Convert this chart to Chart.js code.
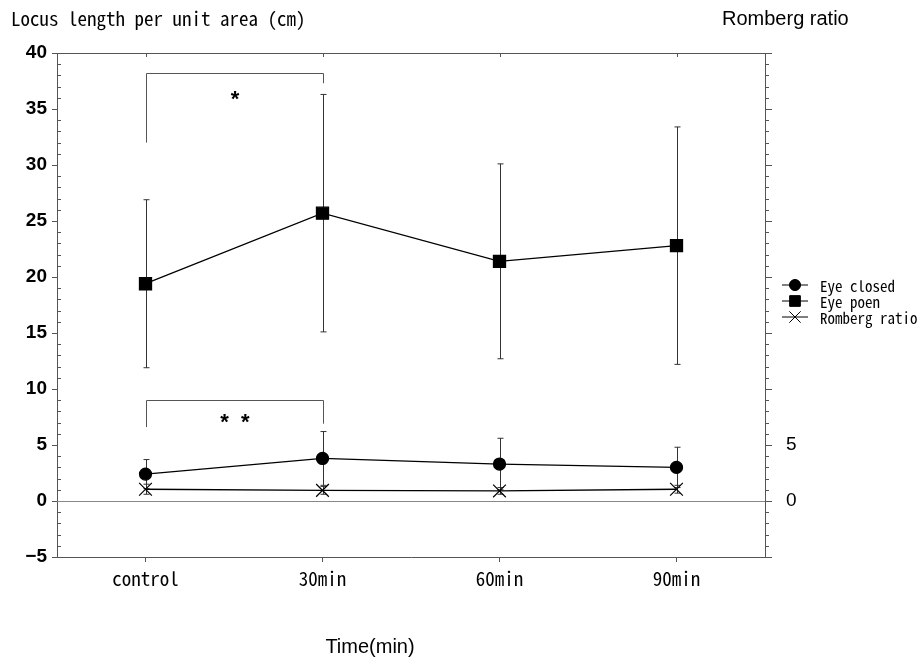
<!DOCTYPE html>
<html>
<head>
<meta charset="utf-8">
<script src="https://cdn.jsdelivr.net/npm/chart.js@4.4.1/dist/chart.umd.min.js"></script>
<style>
  html, body { margin: 0; padding: 0; background: #fff; }
  #wrap { width: 923px; height: 659px; }
</style>
</head>
<body>
<div id="wrap"><canvas id="chart" width="923" height="659"></canvas></div>
<script>
// time points and measured values (mean and SD)
const timeLabels = ['control', '30min', '60min', '90min'];
const eyeClosedMean = [2.4, 3.8, 3.3, 3.0];
const eyeClosedSD = [1.3, 2.4, 2.3, 1.8];
const eyeOpenMean = [19.4, 25.7, 21.4, 22.8];
const eyeOpenSD = [7.5, 10.6, 8.7, 10.6];
const rombergMean = [1.05, 0.95, 0.9, 1.05];
const rombergSD = [0.45, 0.35, 0.3, 0.35];

const leftTicks = [-5, 0, 5, 10, 15, 20, 25, 30, 35, 40];
const rightTicks = [-5, 0, 5, 10, 15, 20, 25, 30, 35, 40];
const rightTickLabels = [0, 5];

// significance brackets: category span, bar height and the ends of each leg
const brackets = [
  { from: 0, to: 1, top: 38.2, leftEnd: 32.0, rightEnd: 37.3, textY: 36.3, text: '*' },
  { from: 0, to: 1, top: 9.0, leftEnd: 6.6, rightEnd: 6.9, textY: 7.4, text: '*  *' }
];

const monoFont = '"Noto Sans Mono CJK JP", "DejaVu Sans Mono", monospace';
const sansFont = '"Liberation Sans", Arial, sans-serif';

function seg(ctx, x1, y1, x2, y2) {
  ctx.beginPath();
  ctx.moveTo(x1, y1);
  ctx.lineTo(x2, y2);
  ctx.stroke();
}

const errorBars = [
  { mean: eyeOpenMean, sd: eyeOpenSD, axis: 'y' },
  { mean: eyeClosedMean, sd: eyeClosedSD, axis: 'y' },
  { mean: rombergMean, sd: rombergSD, axis: 'y2' }
];

const decorations = {
  id: 'decorations',
  beforeDatasetsDraw(chart) {
    const { ctx, chartArea: a, scales } = chart;
    const x = scales.x, y = scales.y;
    ctx.save();
    ctx.lineWidth = 1;
    ctx.strokeStyle = '#555';

    // top frame line with category ticks pointing in
    seg(ctx, a.left, a.top + 0.5, a.right, a.top + 0.5);
    timeLabels.forEach((_, i) => {
      const px = Math.round(x.getPixelForValue(i)) + 0.5;
      seg(ctx, px, a.top, px, a.top + 4);
    });

    // zero line
    ctx.strokeStyle = '#888';
    const y0 = Math.round(y.getPixelForValue(0)) + 0.5;
    seg(ctx, a.left, y0, a.right, y0);

    // minor ticks: inward on the left axis, outward on the right axis
    ctx.strokeStyle = '#555';
    for (let v = -5; v <= 40; v++) {
      if (v % 5 === 0) continue;
      const py = Math.round(y.getPixelForValue(v)) + 0.5;
      seg(ctx, a.left, py, a.left + 4, py);
      seg(ctx, a.right, py, a.right + 4, py);
    }

    // error bars (mean ± SD)
    ctx.strokeStyle = '#333';
    errorBars.forEach(eb => {
      const sc = scales[eb.axis];
      eb.mean.forEach((m, i) => {
        const px = Math.round(x.getPixelForValue(i)) + 0.5;
        const top = sc.getPixelForValue(m + eb.sd[i]);
        const bot = sc.getPixelForValue(m - eb.sd[i]);
        seg(ctx, px, top, px, bot);
        seg(ctx, px - 3, top, px + 3, top);
        seg(ctx, px - 3, bot, px + 3, bot);
      });
    });

    // significance brackets
    ctx.strokeStyle = '#555';
    brackets.forEach(b => {
      const x1 = Math.round(x.getPixelForValue(b.from)) + 0.5;
      const x2 = Math.round(x.getPixelForValue(b.to)) + 0.5;
      const yt = Math.round(y.getPixelForValue(b.top)) + 0.5;
      ctx.beginPath();
      ctx.moveTo(x1, y.getPixelForValue(b.leftEnd));
      ctx.lineTo(x1, yt);
      ctx.lineTo(x2, yt);
      ctx.lineTo(x2, y.getPixelForValue(b.rightEnd));
      ctx.stroke();
      ctx.fillStyle = '#000';
      ctx.font = 'bold 22px ' + sansFont;
      ctx.textAlign = 'center';
      ctx.textBaseline = 'middle';
      ctx.fillText(b.text, (x1 + x2) / 2, y.getPixelForValue(b.textY) + 5);
    });
    ctx.restore();
  },
  afterDraw(chart) {
    const { ctx } = chart;
    ctx.save();
    ctx.fillStyle = '#000';
    ctx.textBaseline = 'middle';

    ctx.font = '500 19px ' + monoFont;
    ctx.textAlign = 'left';
    ctx.fillText('Locus length per unit area (cm)', 11, 19);

    ctx.font = '20px ' + sansFont;
    ctx.fillText('Romberg ratio', 722, 19);
    ctx.textAlign = 'center';
    ctx.fillText('Time(min)', 370, 647);

    // legend
    const items = [
      { text: 'Eye closed', ds: 0, r: 5.5 },
      { text: 'Eye poen', ds: 1, r: 7.5 },
      { text: 'Romberg ratio', ds: 2, r: 8 }
    ];
    ctx.textAlign = 'left';
    ctx.font = '500 15px ' + monoFont;
    items.forEach((it, i) => {
      const ly = 285 + i * 16;
      const ds = chart.data.datasets[it.ds];
      ctx.strokeStyle = '#000';
      ctx.lineWidth = 1;
      seg(ctx, 782, ly, 808, ly);
      Chart.helpers.drawPoint(ctx, {
        pointStyle: ds.pointStyle,
        radius: it.r,
        borderWidth: 1
      }, 795, ly);
      ctx.fillStyle = '#000';
      ctx.fill();
      ctx.fillText(it.text, 820, ly + 1);
    });
    ctx.restore();
  }
};

new Chart(document.getElementById('chart'), {
  type: 'line',
  data: {
    labels: timeLabels,
    datasets: [
      {
        label: 'Eye closed',
        data: eyeClosedMean,
        yAxisID: 'y',
        borderColor: '#000',
        borderWidth: 1.3,
        pointStyle: 'circle',
        pointRadius: 6,
        pointBackgroundColor: '#000',
        pointBorderColor: '#000'
      },
      {
        label: 'Eye poen',
        data: eyeOpenMean,
        yAxisID: 'y',
        borderColor: '#000',
        borderWidth: 1.3,
        pointStyle: 'rect',
        pointRadius: 8.5,
        pointBackgroundColor: '#000',
        pointBorderColor: '#000'
      },
      {
        label: 'Romberg ratio',
        data: rombergMean,
        yAxisID: 'y2',
        borderColor: '#000',
        borderWidth: 1.3,
        pointStyle: 'crossRot',
        pointRadius: 9,
        pointBorderWidth: 1.2,
        pointBackgroundColor: '#000',
        pointBorderColor: '#000'
      }
    ]
  },
  options: {
    responsive: false,
    animation: false,
    layout: { padding: { top: 53, left: 0, right: 0, bottom: 0 } },
    plugins: {
      legend: { display: false },
      title: { display: false },
      tooltip: { enabled: false }
    },
    scales: {
      x: {
        type: 'category',
        offset: true,
        grid: { drawOnChartArea: false, offset: false, tickLength: 5, color: '#555' },
        border: { color: '#555' },
        ticks: { color: '#000', padding: 5, font: { family: monoFont, size: 19, weight: 500 } },
        afterFit(s) { s.height = 102; }
      },
      y: {
        position: 'left',
        min: -5,
        max: 40,
        afterBuildTicks(s) { s.ticks = leftTicks.map(v => ({ value: v })); },
        ticks: {
          color: '#000',
          padding: 5,
          font: { family: sansFont, size: 19, weight: 'bold' },
          callback: v => (v < 0 ? '\u2212' + Math.abs(v) : String(v))
        },
        grid: { drawOnChartArea: false, tickLength: 5, color: '#555' },
        border: { color: '#555' },
        afterFit(s) { s.width = 57; }
      },
      y2: {
        position: 'right',
        min: -5,
        max: 40,
        afterBuildTicks(s) { s.ticks = rightTicks.map(v => ({ value: v })); },
        ticks: {
          color: '#000',
          padding: 14,
          font: { family: sansFont, size: 19 },
          callback: v => (rightTickLabels.includes(v) ? String(v) : '')
        },
        grid: { drawOnChartArea: false, tickLength: 7, color: '#555' },
        border: { color: '#555' },
        afterFit(s) { s.width = 158; }
      }
    }
  },
  plugins: [decorations]
});
</script>
</body>
</html>
